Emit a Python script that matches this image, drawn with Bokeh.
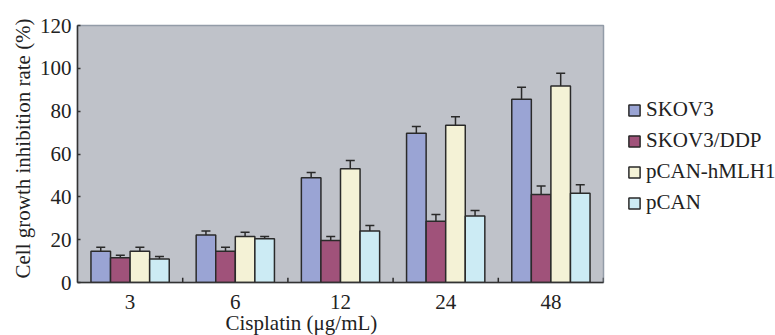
from bokeh.plotting import figure
from bokeh.models import ColumnDataSource, FactorRange, Range1d, Legend, LegendItem, Whisker, TeeHead, Title
from bokeh.transform import dodge
from bokeh.embed import file_html
from bokeh.resources import INLINE

cats = ["3", "6", "12", "24", "48"]
series = ["SKOV3", "SKOV3/DDP", "pCAN-hMLH1", "pCAN"]
skov3 = [14.6, 22.2, 48.9, 69.7, 85.6]
skov3_err = [1.9, 1.9, 2.5, 3.1, 5.6]
ddp = [11.5, 14.6, 19.6, 28.6, 41.1]
ddp_err = [1.2, 1.9, 1.9, 3.1, 4.0]
hmlh1 = [14.6, 21.5, 53.1, 73.4, 91.8]
hmlh1_err = [1.9, 2.0, 3.9, 4.0, 5.9]
pcan = [11.0, 20.4, 24.1, 31.1, 41.7]
pcan_err = [1.1, 1.1, 2.5, 2.5, 4.0]
y_ticks = [0, 20, 40, 60, 80, 100, 120]
x_title = "Cisplatin (\u03bcg/mL)"
y_title = "Cell growth inhibition rate (%)"

values = [skov3, ddp, hmlh1, pcan]
errors = [skov3_err, ddp_err, hmlh1_err, pcan_err]
colors = ["#9AA4D4", "#A0527A", "#F4F2D6", "#CCEBF4"]
offsets = [-0.279, -0.093, 0.093, 0.279]
bar_w = 0.186

FONT = "Liberation Serif"
FS = "21px"
p = figure(width=775, height=335, x_range=FactorRange(factors=cats, range_padding=0),
           y_range=Range1d(0, 120), output_backend="svg", toolbar_location=None,
           frame_width=526, frame_height=257,
           min_border_left=77, min_border_top=25, min_border_bottom=53, min_border_right=172)
p.background_fill_color = "#BFC2C9"
p.border_fill_color = "white"
p.outline_line_color = "#939CA8"
p.outline_line_width = 1.5
p.xgrid.grid_line_color = None
p.ygrid.grid_line_color = None

items = []
for name, vals, errs, col, off in zip(series, values, errors, colors, offsets):
    src = ColumnDataSource(dict(cat=cats, top=vals, upper=[v + e for v, e in zip(vals, errs)]))
    r = p.vbar(x=dodge("cat", off, range=p.x_range), top="top", width=bar_w, source=src,
               fill_color=col, line_color="#2A2A2A", line_width=1.5)
    wk = Whisker(base=dodge("cat", off, range=p.x_range), lower="top", upper="upper", source=src,
                 line_color="#2A2A2A", line_width=1.5, lower_head=None,
                 upper_head=TeeHead(size=9, line_color="#2A2A2A", line_width=1.5))
    p.add_layout(wk)
    items.append(LegendItem(label=name, renderers=[r]))

# boundary ticks between categories (inward)
tsrc = ColumnDataSource(dict(cat=cats, y0=[0] * len(cats), y1=[2.2] * len(cats)))
p.segment(x0=dodge("cat", 0.5, range=p.x_range), x1=dodge("cat", 0.5, range=p.x_range),
          y0="y0", y1="y1", source=tsrc, line_color="#2A2A2A", line_width=1.5)

p.yaxis.ticker = y_ticks
p.yaxis.major_tick_in = 3
p.yaxis.major_tick_out = 0
p.yaxis.minor_tick_line_color = None
p.yaxis.axis_line_color = "#333333"
p.yaxis.axis_line_width = 1.5
p.yaxis.major_tick_line_color = "#333333"
p.yaxis.major_tick_line_width = 1.5
p.yaxis.major_label_standoff = 6

p.xaxis.major_tick_line_color = None
p.xaxis.axis_line_color = "#333333"
p.xaxis.axis_line_width = 1.5
p.xaxis.major_label_standoff = 6

for ax in (p.xaxis[0], p.yaxis[0]):
    ax.major_label_text_font = FONT
    ax.major_label_text_font_size = FS
    ax.major_label_text_color = "#222222"

xt = Title(text=x_title, align="left", offset=148, standoff=-5,
           text_font=FONT, text_font_size=FS, text_font_style="normal", text_color="#222222")
p.add_layout(xt, "below")
yt = Title(text=y_title, align="left", offset=4, standoff=4,
           text_font=FONT, text_font_size=FS, text_font_style="normal", text_color="#222222")
p.add_layout(yt, "left")

legend = Legend(items=items, location=(24, 67), margin=0, padding=0,
                glyph_width=14, glyph_height=14, label_height=24, spacing=6,
                label_standoff=5, label_text_font=FONT, label_text_font_size=FS,
                label_text_color="#222222", border_line_color=None,
                background_fill_alpha=0)
p.add_layout(legend, "right")

open("out.html", "w").write(file_html(p, INLINE))
